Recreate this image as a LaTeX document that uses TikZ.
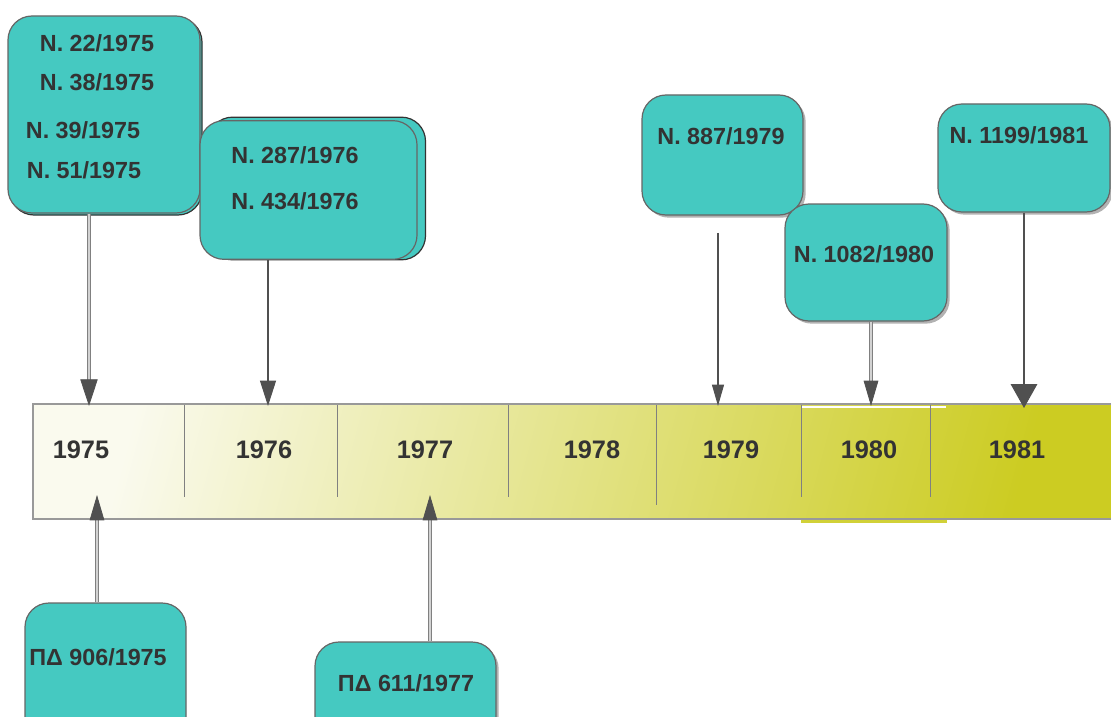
\documentclass[tikz,border=0pt]{standalone}
\usepackage{fontspec}
\setmainfont{Liberation Sans}
\usetikzlibrary{arrows.meta,shadows}
\definecolor{boxteal}{RGB}{69,201,193}
\definecolor{txtgray}{RGB}{51,51,51}
\definecolor{linegray}{RGB}{102,102,102}
\definecolor{tipgray}{RGB}{80,80,80}
\definecolor{barleft}{RGB}{250,250,238}
\definecolor{barmid}{RGB}{228,228,145}
\definecolor{barright}{RGB}{204,204,34}
\tikzset{
  lawbox/.style={draw=linegray, fill=boxteal, rounded corners=18pt, line width=0.9pt},
  shadowed/.style={drop shadow={shadow xshift=2pt, shadow yshift=-2pt, fill=black, opacity=0.3}},
  lawtext/.style={text=txtgray, font=\bfseries\fontsize{17.5}{20}\selectfont, inner sep=0pt},
  yeartext/.style={text=txtgray, font=\bfseries\fontsize{19}{22}\selectfont, inner sep=0pt},
  conn/.style={draw=tipgray, line width=0.8pt},
  conndouble/.style={draw=gray, double=gray!35, double distance=1.4pt, line width=0.6pt},
}
\begin{document}
\begin{tikzpicture}[x=0.75pt, y=-0.75pt]
   \clip (0,0) rectangle (1111,717);
   \fill[white] (0,0) rectangle (1111,717);
   % time bar
   \fill[barright!90] (801,517) rectangle (947,523);
   \shade[left color=barleft, middle color=barmid, right color=barright, shading angle=75]
      (33,404) rectangle (1115,519);
   \draw[gray!80, line width=2pt] (1115,404) -- (33,404) -- (33,519) -- (1115,519);
   \draw[white, line width=1.2pt] (802,407) -- (946,407);
   \foreach \x/\y in {184/497, 337/497, 508/497, 656/505, 801/497, 930/497}
      \draw[gray, line width=0.7pt] (\x,405) -- (\x,\y);
   \node (y75) [yeartext] at (81,450) {1975};
   \node (y76) [yeartext] at (264,450) {1976};
   \node (y77) [yeartext] at (425,450) {1977};
   \node (y78) [yeartext] at (592,450) {1978};
   \node (y79) [yeartext] at (731,450) {1979};
   \node (y80) [yeartext] at (869,450) {1980};
   \node (y81) [yeartext] at (1017,450) {1981};
   \coordinate (a75) at (89,406);
   \coordinate (b76) at (268,406);
   \coordinate (c79) at (718,406);
   \coordinate (d80) at (871,406);
   \coordinate (e81) at (1024,408);
   \coordinate (f75) at (97,495);
   \coordinate (g77) at (430,495);
   % boxes above
   \node (boxAback) [lawbox, draw=black!80, minimum width=144pt, minimum height=147.75pt] at (106,116.5) {};
   \node (boxA) [lawbox, minimum width=144pt, minimum height=147.75pt] at (104,114.5) {};
   \node (boxBback) [lawbox, draw=black!80, minimum width=162.75pt, minimum height=107pt] at (317,188.5) {};
   \node (boxB) [lawbox, minimum width=162.75pt, minimum height=104pt] at (308.5,190) {};
   \node (boxC) [lawbox, shadowed, minimum width=120.75pt, minimum height=90pt] at (722.5,155) {};
   \node (boxD) [lawbox, shadowed, minimum width=121.5pt, minimum height=87.75pt] at (866,262.5) {};
   \node (boxE) [lawbox, shadowed, minimum width=129pt, minimum height=81pt] at (1024,158) {};
   % boxes below
   \node (boxF) [lawbox, minimum width=120.75pt, minimum height=106.5pt] at (105.5,674) {};
   \node (boxG) [lawbox, shadowed, minimum width=135.75pt, minimum height=88.5pt] at (405.5,701) {};
   % texts
   \node (t22) [lawtext] at (97,43) {N. 22/1975};
   \node (t38) [lawtext] at (97,82) {N. 38/1975};
   \node (t39) [lawtext] at (83,130) {N. 39/1975};
   \node (t51) [lawtext] at (84,170) {N. 51/1975};
   \node (t287) [lawtext] at (295,155) {N. 287/1976};
   \node (t434) [lawtext] at (295,201) {N. 434/1976};
   \node (t887) [lawtext] at (721,136) {N. 887/1979};
   \node (t1082) [lawtext] at (864,254) {N. 1082/1980};
   \node (t1199) [lawtext] at (1019,135) {N. 1199/1981};
   \node (t906) [lawtext] at (98,657) {ΠΔ 906/1975};
   \node (t611) [lawtext] at (406,683) {ΠΔ 611/1977};
   % arrows
   \draw [conndouble, -{Triangle[width=13pt, length=20pt, color=tipgray]}] (boxA.south -| a75) -- (a75);
   \draw [conn, -{Triangle[width=12pt, length=19pt]}] (boxB.south -| b76) -- (b76);
   \draw [conn, shorten <=13pt, -{Triangle[width=9pt, length=16pt]}] (boxC.south -| c79) -- (c79);
   \draw [conndouble, -{Triangle[width=11pt, length=19pt, color=tipgray]}] (boxD.south -| d80) -- (d80);
   \draw [conn, -{Triangle[width=20pt, length=18pt]}] (boxE.south -| e81) -- (e81);
   \draw [conndouble, -{Triangle[width=11pt, length=19pt, color=tipgray]}] (boxF.north -| f75) -- (f75);
   \draw [conndouble, -{Triangle[width=11pt, length=19pt, color=tipgray]}] (boxG.north -| g77) -- (g77);
\end{tikzpicture}
\end{document}
